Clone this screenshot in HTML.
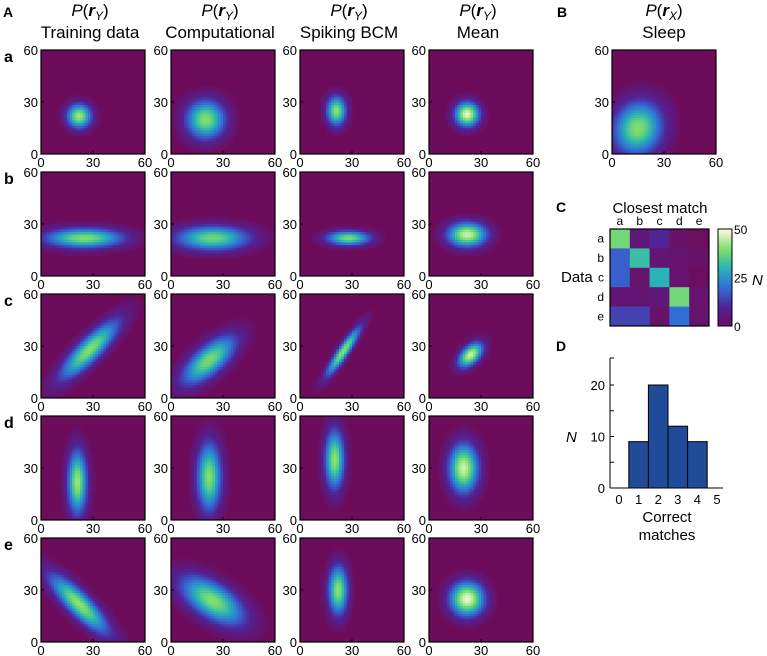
<!DOCTYPE html>
<html><head><meta charset="utf-8"><style>
body{margin:0;background:#fff;}
svg{display:block;font-family:"Liberation Sans",Arial,sans-serif;}
</style></head><body>
<svg id="fig" width="767" height="656" viewBox="0 0 767 656" xmlns="http://www.w3.org/2000/svg">
<g id="heat"></g>
<g id="txt" fill="#000">
 <text x="3" y="17" font-size="14" font-weight="bold">A</text>
 <text x="557" y="17" font-size="14" font-weight="bold">B</text>
 <text x="556" y="212" font-size="14" font-weight="bold">C</text>
 <text x="556" y="351" font-size="14" font-weight="bold">D</text>
</g>
<g id="matrix"></g>
<g id="hist"></g>
</svg>
<script>
// ---- Heatmap density parameters (units 0-60): mean x, mean y, sd x, sd y, correlation, peak brightness
const rowNames = ['a','b','c','d','e'];
const colTitles = ['Training data','Computational','Spiking BCM','Mean'];
const meanX = [[22,20,21,22],[25,24,28,22],[28,22,25,24],[21,22,20,20],[22,24,22,22]];
const meanY = [[22,20,25,23],[22,22,22,24],[28,22,27,25],[22,25,35,30],[22,24,30,25]];
const sdX   = [[5,8,4,5],[16,15,9,8],[12,11,7,5],[4,5,4,6],[12,13,4,7]];
const sdY   = [[5,8,6,5],[4,5,3,5],[12,10,10,5],[13,14,12,10],[12,10,10,7]];
const rhoXY = [[0,0,0,0],[0,0,0,0],[0.85,0.7,0.92,0.5],[0,0,0,0],[-0.85,-0.6,0,0]];
const peak  = [[0.85,0.8,0.82,0.97],[0.8,0.76,0.78,0.92],[0.8,0.78,0.82,0.92],[0.84,0.8,0.82,0.92],[0.82,0.8,0.82,0.97]];
const sleepParams = [15,15,10,11,0.1,0.8];
const axisTicks = [0,30,60];
// ---- Panel C matrix (rows: data a-e, cols: closest match a-e)
const matchLabels = ['a','b','c','d','e'];
const matrixValues = [[38,5,10,2,1],[18,32,4,3,2],[18,3,30,3,1],[4,4,5,38,3],[14,14,2,20,3]];
const cbarTicks = [0,25,50];
// ---- Panel D histogram
const histCats = [0,1,2,3,4,5];
const histValues = [0,9,20,12,9,0];
const histYTicks = [0,10,20];

const NS='http://www.w3.org/2000/svg';
function mk(tag,attrs,parent){const e=document.createElementNS(NS,tag);for(const k in attrs)e.setAttribute(k,attrs[k]);parent.appendChild(e);return e;}
const stops=[[0,[110,12,92]],[0.2,[80,35,150]],[0.4,[50,110,215]],[0.6,[40,180,180]],[0.8,[130,225,105]],[1,[255,248,232]]];
function cmap(t){t=Math.max(0,Math.min(1,t));for(let i=1;i<stops.length;i++){if(t<=stops[i][0]){const a=stops[i-1],b=stops[i];const f=(t-a[0])/(b[0]-a[0]);const c=a[1].map((v,j)=>Math.round(v+(b[1][j]-v)*f));return `rgb(${c[0]},${c[1]},${c[2]})`;}}return 'rgb(255,248,232)';}

const colX=[41,171,300,429]; const rowY=[50,172,294,416,538]; const S=104; const N=40;
const heat=document.getElementById('heat');
function drawPanel(x0,y0,p,name){
  const g=mk('g',{},heat);
  
  
  const bg=mk('rect',{x:x0,y:y0,width:S,height:S,fill:cmap(0)},g);
  
  
  const [mx,my,sx,sy,r,pk]=p; const cs=S/N; const u=60/N;
  for(let i=0;i<N;i++)for(let j=0;j<N;j++){
    const vx=(i+0.5)*u, vy=(j+0.5)*u;
    const dx=(vx-mx)/sx, dy=(vy-my)/sy;
    const q=(dx*dx-2*r*dx*dy+dy*dy)/(2*(1-r*r));
    const d=Math.exp(-q)*pk;
    if(d<0.04)continue;
    const c=mk('rect',{x:(x0+i*cs).toFixed(2),y:(y0+S-(j+1)*cs).toFixed(2),width:(cs+0.3).toFixed(2),height:(cs+0.3).toFixed(2),fill:cmap(d)},g);
    
    
  }
  const fr=mk('rect',{x:x0,y:y0,width:S,height:S,fill:'none',stroke:'#000','stroke-width':1.2},g);
  
  
  axisTicks.forEach(t=>{
    const px=x0+t/60*S, py=y0+S-t/60*S;
    mk('line',{x1:px,y1:y0+S,x2:px,y2:y0+S-3,stroke:'#000'},g);
    mk('line',{x1:x0,y1:py,x2:x0+3,y2:py,stroke:'#000'},g);
    const tx=mk('text',{x:px,y:y0+S+13,'font-size':13,'text-anchor':'middle'},g);tx.textContent=t;
    
    
    const ty=mk('text',{x:x0-3,y:py+5,'font-size':13,'text-anchor':'end'},g);ty.textContent=t;
    
    
  });
}
for(let r=0;r<5;r++){
  for(let c=0;c<4;c++) drawPanel(colX[c],rowY[r],[meanX[r][c],meanY[r][c],sdX[r][c],sdY[r][c],rhoXY[r][c],peak[r][c]],'heatmap-'+rowNames[r]+'-'+c);
  const t=mk('text',{x:4,y:rowY[r]+12,'font-size':16,'font-weight':'bold'},document.getElementById('txt'));t.textContent=rowNames[r];
  
  
}
drawPanel(612,50,sleepParams,'heatmap-sleep');
const txt=document.getElementById('txt');
function title(cx,sub,subscript,name){
  const t=mk('text',{x:cx,y:16,'font-size':17,'text-anchor':'middle'},txt);
  t.innerHTML=`<tspan font-style="italic">P</tspan>(<tspan font-weight="bold" font-style="italic">r</tspan><tspan font-style="italic" font-size="12" dy="4">${subscript}</tspan><tspan dy="-4">)</tspan>`;
  
  
  const s=mk('text',{x:cx,y:38,'font-size':17,'text-anchor':'middle'},txt);s.textContent=sub;
  
  
}
colTitles.forEach((s,i)=>title(colX[i]+S/2-3,s,'Y','column-'+i));
title(664,'Sleep','X','sleep');

// ---- Matrix
const mg=document.getElementById('matrix'); const mx0=610,my0=229,cw=99/5,ch=97/5;
const mcol=v=>cmap(v/50);
matrixValues.forEach((row,i)=>row.forEach((v,j)=>{
  const c=mk('rect',{x:mx0+j*cw,y:my0+i*ch,width:cw+0.3,height:ch+0.3,fill:mcol(v)},mg);
  
  
}));
mk('rect',{x:mx0,y:my0,width:99,height:97,fill:'none',stroke:'#000','stroke-width':1.2},mg);
matchLabels.forEach((l,i)=>{
  const a=mk('text',{x:mx0+(i+0.5)*cw,y:my0-4,'font-size':12,'text-anchor':'middle'},mg);a.textContent=l;
  
  
  const b=mk('text',{x:mx0-6,y:my0+(i+0.5)*ch+4,'font-size':12,'text-anchor':'end'},mg);b.textContent=l;
  
  
});
let t=mk('text',{x:mx0+50,y:213,'font-size':15,'text-anchor':'middle'},mg);t.textContent='Closest match';

t=mk('text',{x:561,y:282,'font-size':15},mg);t.textContent='Data';

const cbx=718,cby=229,cbw=14,cbh=97;
for(let k=0;k<50;k++){mk('rect',{x:cbx,y:cby+cbh-(k+1)*cbh/50,width:cbw,height:cbh/50+0.4,fill:cmap((k+0.5)/50)},mg);}
mk('rect',{x:cbx,y:cby,width:cbw,height:cbh,fill:'none',stroke:'#000'},mg);
cbarTicks.forEach(v=>{const y=cby+cbh-v/50*cbh;const l=mk('text',{x:cbx+cbw+2,y:y+5,'font-size':12},mg);l.textContent=v;
  });
t=mk('text',{x:752,y:285,'font-size':15,'font-style':'italic'},mg);t.textContent='N';


// ---- Histogram
const hg=document.getElementById('hist'); const hx0=610,hy0=488,ux=19.6,uy=5.15;
const X=v=>619+v*ux, Y=v=>hy0-v*uy;
histCats.forEach((c,i)=>{ if(histValues[i]>0){
  const b=mk('rect',{x:X(c-0.5),y:Y(histValues[i]),width:ux,height:histValues[i]*uy,fill:'#1f4b99',stroke:'#000'},hg);
  }
  const l=mk('text',{x:X(c),y:hy0+16,'font-size':13,'text-anchor':'middle'},hg);l.textContent=c;
  
});
mk('line',{x1:hx0,y1:358,x2:hx0,y2:hy0,stroke:'#000'},hg);
mk('line',{x1:hx0,y1:358,x2:hx0+4,y2:358,stroke:'#000'},hg);
mk('line',{x1:hx0,y1:hy0,x2:723,y2:hy0,stroke:'#000'},hg);
[5,15].forEach(v=>mk('line',{x1:hx0,y1:Y(v),x2:hx0+4,y2:Y(v),stroke:'#000'},hg));
histYTicks.forEach(v=>{mk('line',{x1:hx0,y1:Y(v),x2:hx0+4,y2:Y(v),stroke:'#000'},hg);
  const l=mk('text',{x:hx0-5,y:Y(v)+5,'font-size':13,'text-anchor':'end'},hg);l.textContent=v;
  });
t=mk('text',{x:566,y:442,'font-size':15,'font-style':'italic'},hg);t.textContent='N';

t=mk('text',{x:667,y:522,'font-size':15,'text-anchor':'middle'},hg);t.textContent='Correct';

t=mk('text',{x:667,y:540,'font-size':15,'text-anchor':'middle'},hg);t.textContent='matches';

</script>
</body></html>
